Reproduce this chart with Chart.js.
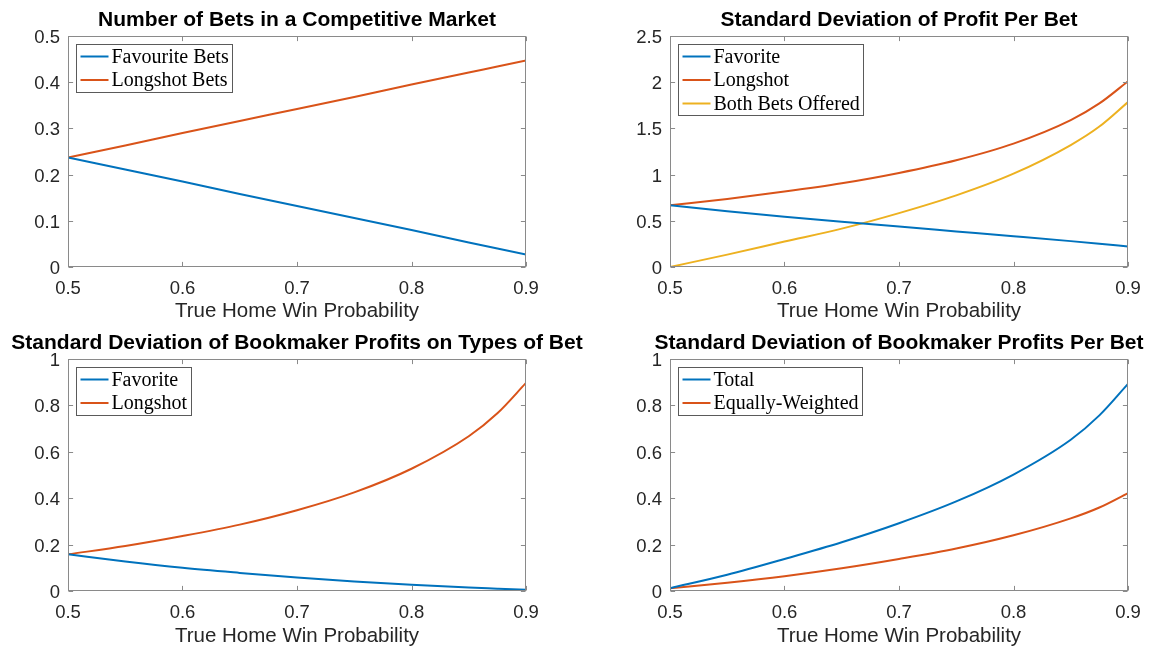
<!DOCTYPE html>
<html lang="en">
<head>
<meta charset="UTF-8">
<title>Bookmaker Profits in a Competitive Market</title>
<script src="https://cdn.jsdelivr.net/npm/chart.js"></script>
<style>
  body { margin: 0; background: #fff; }
  #wrap { position: relative; width: 1155px; height: 649px; }
  canvas { position: absolute; }
</style>
</head>
<body>
<div id="wrap">
  <canvas id="c1" width="600" height="324" style="left:0;top:0"></canvas>
  <canvas id="c2" width="578" height="324" style="left:577px;top:0"></canvas>
  <canvas id="c3" width="600" height="325" style="left:0;top:324px"></canvas>
  <canvas id="c4" width="578" height="325" style="left:577px;top:324px"></canvas>
</div>
<script>
// true home win probability (x axis)
const probs = [0.5, 0.55, 0.6, 0.65, 0.7, 0.75, 0.8, 0.85, 0.875, 0.9];
const xTicks = [0.5, 0.6, 0.7, 0.8, 0.9];

// top left: number of bets
const betsFavourite = [0.237, 0.211, 0.185, 0.158, 0.132, 0.106, 0.080, 0.053, 0.040, 0.027];
const betsLongshot  = [0.237, 0.263, 0.290, 0.316, 0.342, 0.368, 0.395, 0.421, 0.434, 0.447];
const yTicks1 = [0, 0.1, 0.2, 0.3, 0.4, 0.5];

// top right: sd of profit per bet
const sdFavorite = [0.667, 0.603, 0.544, 0.490, 0.437, 0.385, 0.333, 0.280, 0.252, 0.222];
const sdLongshot = [0.667, 0.737, 0.816, 0.906, 1.018, 1.155, 1.335, 1.590, 1.770, 2.010];
const sdBoth     = [0.000, 0.134, 0.275, 0.415, 0.583, 0.775, 1.010, 1.320, 1.520, 1.785];
const yTicks2 = [0, 0.5, 1, 1.5, 2, 2.5];

// bottom left: sd of bookmaker profits on types of bet
const bkFavorite = [0.158, 0.127, 0.100, 0.078, 0.058, 0.041, 0.027, 0.015, 0.010, 0.005];
const bkLongshot = [0.158, 0.194, 0.237, 0.286, 0.348, 0.425, 0.527, 0.667, 0.766, 0.897];
const yTicks3 = [0, 0.2, 0.4, 0.6, 0.8, 1];

// bottom right: sd of bookmaker profits per bet
const perBetTotal = [0.012, 0.070, 0.138, 0.210, 0.292, 0.386, 0.502, 0.652, 0.757, 0.893];
const perBetEqual = [0.012, 0.036, 0.064, 0.098, 0.138, 0.183, 0.240, 0.313, 0.360, 0.422];

const BLUE = '#0072BD', ORANGE = '#D95319', YELLOW = '#EDB120';
const SANS = '"Liberation Sans", Arial, Helvetica, sans-serif';
const SERIF = '"Liberation Serif", "Times New Roman", serif';
const AX = '#262626';

const fmt = v => String(Math.round(v * 100) / 100);

// MATLAB-style title, box, inward ticks and boxed legend
const matlabBox = {
  id: 'matlabBox',
  afterDatasetsDraw(chart, args, opts) {
    const { ctx, chartArea: a, scales } = chart;
    const L = Math.round(a.left) + 0.5, R = Math.round(a.right) - 0.5;
    const T = Math.round(a.top) + 0.5, B = Math.round(a.bottom) - 0.5;
    ctx.save();

    // title
    ctx.fillStyle = '#000';
    ctx.font = 'bold 21px ' + SANS;
    ctx.textAlign = 'center';
    ctx.textBaseline = 'middle';
    ctx.fillText(opts.title, (a.left + a.right) / 2, opts.titleY);

    ctx.strokeStyle = '#8a8a8a';
    ctx.lineWidth = 1;
    ctx.strokeRect(L, T, R - L, B - T);
    const tl = 4.6;
    ctx.beginPath();
    scales.x.ticks.forEach(t => {
      const px = Math.round(scales.x.getPixelForValue(t.value)) + 0.5;
      ctx.moveTo(px, B); ctx.lineTo(px, B - tl);
      ctx.moveTo(px, T); ctx.lineTo(px, T + tl);
    });
    scales.y.ticks.forEach(t => {
      const py = Math.round(scales.y.getPixelForValue(t.value)) + 0.5;
      ctx.moveTo(L, py); ctx.lineTo(L + tl, py);
      ctx.moveTo(R, py); ctx.lineTo(R - tl, py);
    });
    ctx.stroke();

    // legend
    const ds = chart.data.datasets;
    ctx.font = '20px ' + SERIF;
    const tw = Math.max(...ds.map(d => ctx.measureText(d.label).width));
    const bx = Math.round(a.left) + 8.5, by = Math.round(a.top) + 8.5;
    const rowH = 23.5;
    const bw = Math.round(35 + tw + 4), bh = Math.round(24 + rowH * (ds.length - 1));
    ctx.fillStyle = '#fff';
    ctx.fillRect(bx, by, bw, bh);
    ctx.strokeStyle = '#5a5a5a';
    ctx.strokeRect(bx, by, bw, bh);
    ctx.textAlign = 'left';
    ds.forEach((d, i) => {
      const cy = by + 12 + rowH * i;
      ctx.strokeStyle = d.borderColor;
      ctx.lineWidth = 2;
      ctx.beginPath();
      ctx.moveTo(bx + 4, cy); ctx.lineTo(bx + 32, cy);
      ctx.stroke();
      ctx.fillStyle = '#000';
      ctx.fillText(d.label, bx + 35, cy + 1);
    });
    ctx.restore();
  }
};

function makeChart(id, title, series, yMax, yTicks, area) {
  const canvas = document.getElementById(id);
  const W = canvas.width, H = canvas.height;
  return new Chart(canvas.getContext('2d'), {
    type: 'line',
    data: {
      datasets: series.map(s => ({
        label: s.label,
        data: probs.map((p, i) => ({ x: p, y: s.values[i] })),
        borderColor: s.color,
        borderWidth: 2,
        pointRadius: 0,
        cubicInterpolationMode: 'monotone',
        fill: false
      }))
    },
    options: {
      responsive: false,
      animation: false,
      layout: { padding: { left: 0, right: W - area.right, top: area.top, bottom: 0 } },
      plugins: {
        legend: { display: false },
        tooltip: { enabled: false },
        title: { display: false },
        matlabBox: { title: title, titleY: area.titleY }
      },
      scales: {
        x: {
          type: 'linear', min: 0.5, max: 0.9,
          grid: { display: false, drawTicks: false }, border: { display: false },
          afterBuildTicks: s => { s.ticks = xTicks.map(v => ({ value: v })); },
          afterFit: s => { s.height = H - area.bottom; },
          ticks: { callback: fmt, maxRotation: 0, autoSkip: false, padding: 11,
                   color: AX, font: { family: SANS, size: 18.5 } },
          title: { display: true, text: 'True Home Win Probability', color: AX,
                   font: { family: SANS, size: 20.5 }, padding: { top: 0, bottom: 0 } }
        },
        y: {
          type: 'linear', min: 0, max: yMax,
          grid: { display: false, drawTicks: false }, border: { display: false },
          afterBuildTicks: s => { s.ticks = yTicks.map(v => ({ value: v })); },
          afterFit: s => { s.width = area.left; },
          ticks: { callback: fmt, padding: 8, labelOffset: 2, color: AX,
                   font: { family: SANS, size: 18.5 } }
        }
      }
    },
    plugins: [matlabBox]
  });
}

const topLeft  = { left: 68, right: 526, top: 36, bottom: 267, titleY: 20 };
const topRight = { left: 93, right: 551, top: 36, bottom: 267, titleY: 20 };
const botLeft  = { left: 68, right: 526, top: 35, bottom: 267, titleY: 19 };
const botRight = { left: 93, right: 551, top: 35, bottom: 267, titleY: 19 };

makeChart('c1', 'Number of Bets in a Competitive Market', [
  { label: 'Favourite Bets', values: betsFavourite, color: BLUE },
  { label: 'Longshot Bets', values: betsLongshot, color: ORANGE }
], 0.5, yTicks1, topLeft);

makeChart('c2', 'Standard Deviation of Profit Per Bet', [
  { label: 'Favorite', values: sdFavorite, color: BLUE },
  { label: 'Longshot', values: sdLongshot, color: ORANGE },
  { label: 'Both Bets Offered', values: sdBoth, color: YELLOW }
], 2.5, yTicks2, topRight);

makeChart('c3', 'Standard Deviation of Bookmaker Profits on Types of Bet', [
  { label: 'Favorite', values: bkFavorite, color: BLUE },
  { label: 'Longshot', values: bkLongshot, color: ORANGE }
], 1, yTicks3, botLeft);

makeChart('c4', 'Standard Deviation of Bookmaker Profits Per Bet', [
  { label: 'Total', values: perBetTotal, color: BLUE },
  { label: 'Equally-Weighted', values: perBetEqual, color: ORANGE }
], 1, yTicks3, botRight);
</script>
</body>
</html>
